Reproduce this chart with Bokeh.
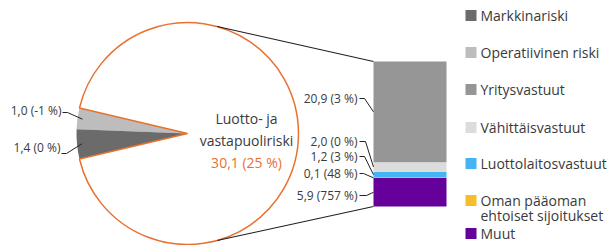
import math
from bokeh.plotting import figure
from bokeh.models import Range1d
from bokeh.embed import file_html
from bokeh.resources import INLINE
from bokeh.core.properties import value

# ---------------- data ----------------
pie_names = ["Operatiivinen riski", "Markkinariski", "Luotto- ja vastapuoliriski"]
pie_values = [1.0, 1.4, 30.1]
pie_changes = ["-1", "0", "25"]

bar_names = ["Muut", "Oman pääoman ehtoiset sijoitukset", "Luottolaitosvastuut",
             "Vähittäisvastuut", "Yritysvastuut"]
bar_values = [5.9, 0.1, 1.2, 2.0, 20.9]
bar_changes = ["757", "48", "3", "0", "3"]

legend_labels = ["Markkinariski", "Operatiivinen riski", "Yritysvastuut", "Vähittäisvastuut",
                 "Luottolaitosvastuut", "Oman pääoman\nehtoiset sijoitukset", "Muut"]

# ---------------- styles ----------------
C_MARKET = "#6b6b6b"
C_OPER = "#bdbdbd"
C_CORP = "#969696"
C_RETAIL = "#dcdcdc"
C_INST = "#45b4f2"
C_EQUITY = "#f7be2b"
C_OTHER = "#66009a"
C_ORANGE = "#e9712f"
TXT = "#3a3a3a"
FONT = value("Open Sans")

pie_colors = [C_OPER, C_MARKET, "white"]
bar_colors = [C_OTHER, C_EQUITY, C_INST, C_RETAIL, C_CORP]
legend_colors = [C_MARKET, C_OPER, C_CORP, C_RETAIL, C_INST, C_EQUITY, C_OTHER]

W, H = 611, 245  # y_up = H - py


def fmt(v, c):
    return f"{v:.1f}".replace(".", ",") + f" ({c} %)"


p = figure(width=W, height=H, output_backend="svg", toolbar_location=None,
           x_range=Range1d(0, W), y_range=Range1d(0, H), min_border=0)
p.axis.visible = False
p.grid.visible = False
p.outline_line_color = None
p.background_fill_color = "white"

# ---------------- pie ----------------
cx, cy, R = 187, H - 133, 111
total = sum(pie_values)
small = pie_values[0] + pie_values[1]
a0 = 180 - small / total * 360 / 2
a1 = a0 + pie_values[0] / total * 360
a2 = a1 + pie_values[1] / total * 360
rad = math.radians
p.wedge(x=cx, y=cy, radius=R, radius_units="screen", start_angle=rad(a0), end_angle=rad(a1),
        fill_color=pie_colors[0], line_color=None)
p.wedge(x=cx, y=cy, radius=R, radius_units="screen", start_angle=rad(a1), end_angle=rad(a2),
        fill_color=pie_colors[1], line_color=None)
p.wedge(x=cx, y=cy, radius=R, radius_units="screen", start_angle=rad(a2), end_angle=rad(a0),
        fill_color="white", line_color=C_ORANGE, line_width=1.5)

# center text
p.text(x=[246, 246], y=[H - 118, H - 140], text=["Luotto- ja", "vastapuoliriski"],
       text_font=FONT, text_font_size="14px", text_color=TXT,
       text_align="center", text_baseline="middle")
p.text(x=[246], y=[H - 162], text=[fmt(pie_values[2], pie_changes[2])],
       text_font=FONT, text_font_size="14px", text_color=C_ORANGE,
       text_align="center", text_baseline="middle")

# left labels
mids = [(a0 + a1) / 2, (a1 + a2) / 2]
lab_x = [61, 60]
lab_py = [110, 147]
elbow_py = [112, 153]
xs, ys = [], []
for m, lx, lpy, epy in zip(mids, lab_x, lab_py, elbow_py):
    tx = cx + 106 * math.cos(rad(m))
    ty = cy + 106 * math.sin(rad(m))
    xs.append([lx + 1, lx + 6, tx])
    ys.append([H - epy, H - epy, ty])
p.multi_line(xs=xs, ys=ys, line_color="#222222", line_width=1)
p.text(x=lab_x, y=[H - v for v in lab_py],
       text=[fmt(pie_values[0], pie_changes[0]), fmt(pie_values[1], pie_changes[1])],
       text_font=FONT, text_font_size="12px", text_color=TXT,
       text_align="right", text_baseline="middle")

# ---------------- bar ----------------
bx0, bx1 = 373, 446
bbot = H - 206
scale = 145 / sum(bar_values)
bottoms, tops = [], []
acc = bbot
for v in bar_values:
    bottoms.append(acc)
    acc += v * scale
    tops.append(acc)
p.quad(left=bx0, right=bx1, bottom=bottoms, top=tops, fill_color=bar_colors, line_color=None)

# connectors
ang = 74.5
p.multi_line(xs=[[cx + R * math.cos(rad(ang)), bx0], [cx + R * math.cos(rad(-ang)), bx0]],
             ys=[[cy + R * math.sin(rad(ang)), tops[-1]], [cy + R * math.sin(rad(-ang)), bottoms[0]]],
             line_color="#222222", line_width=1.2)

# bar labels
blab_py = [195, 173, 156, 141, 98]
elbow_dx = [7, 4, 5, 6, 5]
xs, ys = [], []
for b, t, lpy, ed in zip(bottoms, tops, blab_py, elbow_dx):
    xs.append([359, 359 + ed, bx0])
    ys.append([H - lpy, H - lpy, (b + t) / 2])
p.multi_line(xs=xs, ys=ys, line_color="#222222", line_width=1)
p.text(x=357, y=[H - v for v in blab_py],
       text=[fmt(v, c) for v, c in zip(bar_values, bar_changes)],
       text_font=FONT, text_font_size="12px", text_color=TXT,
       text_align="right", text_baseline="middle")

# ---------------- legend ----------------
leg_py = [15, 52, 89, 127, 163, 200, 233]
sq = 11
for lab, col, lpy in zip(legend_labels, legend_colors, leg_py):
    yc = H - lpy
    p.quad(left=465, right=465 + sq, bottom=yc - sq / 2, top=yc + sq / 2,
           fill_color=col, line_color=None)
    for j, line in enumerate(lab.split("\n")):
        p.text(x=[480], y=[yc - j * 15], text=[line], text_font=FONT,
               text_font_size="14px", text_color=TXT,
               text_align="left", text_baseline="middle")

open("out.html", "w").write(file_html(p, INLINE))
